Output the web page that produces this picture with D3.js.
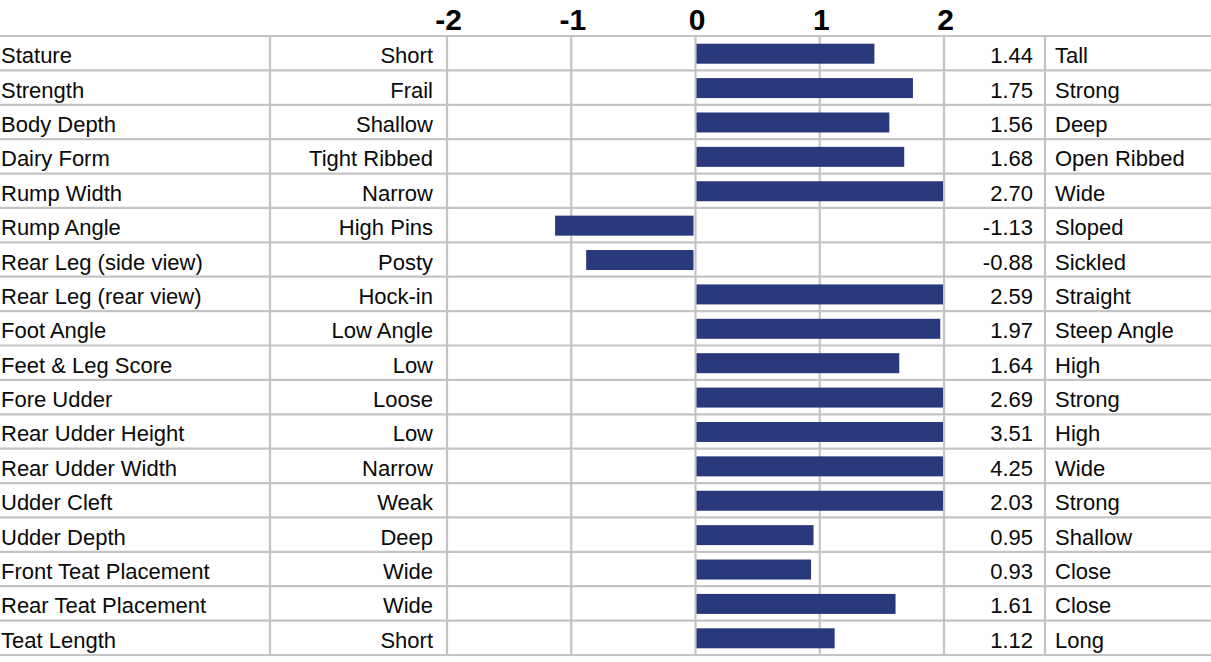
<!DOCTYPE html>
<html><head><meta charset="utf-8">
<script src="https://cdn.jsdelivr.net/npm/d3@7"></script>
<style>
html,body{margin:0;padding:0;background:#fff;}
svg{display:block;}
svg text{font-family:"Liberation Sans",Arial,Helvetica,sans-serif;}
</style></head>
<body><svg id="chart" width="1211" height="662"></svg>
<script>
const traits = ["Stature","Strength","Body Depth","Dairy Form","Rump Width","Rump Angle","Rear Leg (side view)","Rear Leg (rear view)","Foot Angle","Feet & Leg Score","Fore Udder","Rear Udder Height","Rear Udder Width","Udder Cleft","Udder Depth","Front Teat Placement","Rear Teat Placement","Teat Length"];
const lowLabels = ["Short","Frail","Shallow","Tight Ribbed","Narrow","High Pins","Posty","Hock-in","Low Angle","Low","Loose","Low","Narrow","Weak","Deep","Wide","Wide","Short"];
const highLabels = ["Tall","Strong","Deep","Open Ribbed","Wide","Sloped","Sickled","Straight","Steep Angle","High","Strong","High","Wide","Strong","Shallow","Close","Close","Long"];
const values = [1.44,1.75,1.56,1.68,2.70,-1.13,-0.88,2.59,1.97,1.64,2.69,3.51,4.25,2.03,0.95,0.93,1.61,1.12];
const tickValues = [-2,-1,0,1,2];

(function(){
const svg = d3.select("#chart");
const W = 1211, y0 = 36, y1 = 655;
const x = d3.scaleLinear().domain([-2,2]).range([447,944]);
const y = d3.scaleBand().domain(traits).range([y0,y1]).padding(0);
const grid = "#c4c4c4";
const barColor = "#29397b";
const FF = "'Liberation Sans', Arial, Helvetica, sans-serif";
const hy = s => s.replace("\u2212","-");

// horizontal lines
const hl = d3.range(traits.length+1).map(i => y0 + i*y.step());
svg.append("g").selectAll("line").data(hl).join("line")
  .attr("x1",0).attr("x2",W).attr("y1",d=>d).attr("y2",d=>d)
  .attr("stroke",grid).attr("stroke-width",2.2);

// vertical column borders
const colBorders = [270, 1045];
svg.append("g").selectAll("line").data(colBorders).join("line")
  .attr("x1",d=>d).attr("x2",d=>d).attr("y1",y0).attr("y2",y1)
  .attr("stroke",grid).attr("stroke-width",2.2);

// value grid
svg.append("g").selectAll("line").data(tickValues).join("line")
  .attr("x1",d=>x(d)).attr("x2",d=>x(d)).attr("y1",y0).attr("y2",y1)
  .attr("stroke",grid).attr("stroke-width",2.2);

// axis ticks at top
const axis = svg.append("g").attr("transform","translate(1,30)")
  .call(d3.axisTop(x).tickValues(tickValues).tickSize(0).tickPadding(0).tickFormat(d => hy(d3.format("d")(d))));
axis.attr("font-family",FF);
axis.select(".domain").remove();
axis.selectAll("text").attr("font-size",30).attr("font-weight","bold")
  .attr("font-family",FF).attr("fill","#000").attr("dy",0);

// bars
const bh = 20;
svg.append("g").selectAll("rect").data(values).join("rect")
  .attr("x",(d)=> d>=0 ? x(0)+1 : x(Math.max(d,-2)))
  .attr("width",(d)=> d>=0 ? x(Math.min(d,2)) - x(0) - (d>=2?2:1) : x(0) - x(Math.max(d,-2)) - 2)
  .attr("y",(d,i)=> y(traits[i]) + (y.step()-bh)/2 + 0.5)
  .attr("height",bh)
  .attr("fill",barColor);

const fs = 22;
const ty = (i)=> y(traits[i]) + y.step()/2 + 10;
const txt = svg.append("g").attr("font-size",fs).attr("fill","#0a0a0a").attr("font-family",FF);
txt.selectAll(".t").data(traits).join("text").attr("class","t")
  .attr("x",1).attr("y",(d,i)=>ty(i)).text(d=>d);
txt.selectAll(".lo").data(lowLabels).join("text").attr("class","lo")
  .attr("x",433).attr("y",(d,i)=>ty(i)).attr("text-anchor","end").text(d=>d);
txt.selectAll(".v").data(values).join("text").attr("class","v")
  .attr("x",1033).attr("y",(d,i)=>ty(i)).attr("text-anchor","end").text(d=>hy(d3.format(".2f")(d)));
txt.selectAll(".hi").data(highLabels).join("text").attr("class","hi")
  .attr("x",1055).attr("y",(d,i)=>ty(i)).text(d=>d);
})();
</script></body></html>
